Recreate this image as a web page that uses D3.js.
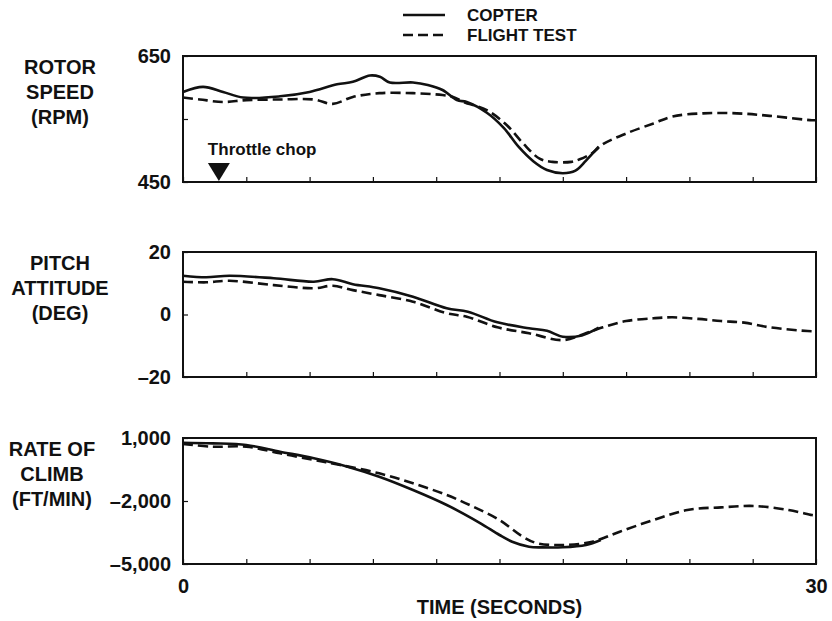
<!DOCTYPE html>
<html>
<head>
<meta charset="utf-8">
<script src="https://cdn.jsdelivr.net/npm/d3@7"></script>
<style>
  html, body { margin: 0; padding: 0; background: #fff; }
  svg { display: block; font-family: "Liberation Sans", Arial, Helvetica, sans-serif; font-weight: bold; }
</style>
</head>
<body>
<svg id="chart" width="832" height="621"></svg>
<script>
// Time axis (seconds)
const timeDomain = [0, 30];
const timeTicks = [0, 3, 6, 9, 12, 15, 18, 21, 24, 27, 30];
const timeLabels = [0, 30];
const throttleChopTime = 1.7;

// Rotor speed (RPM)
const rpmTicks = [450, 550, 650];
const rpmLabels = ["450", "", "650"];
const copterRpmTime = [0, 0.95, 1.9, 2.85, 4.6, 6.0, 7.3, 8.05, 8.86, 9.33, 9.8, 10.9, 11.6, 12.3, 12.98, 13.45, 14.4, 15.2, 15.9, 16.6, 17.25, 18.0, 18.6, 19.1, 19.7];
const copterRpm = [593, 601, 593, 584, 586, 593, 605, 609, 619, 617, 608, 608, 604, 596, 580, 577, 560, 536, 506, 483, 469, 464, 468, 484, 506];
const flightRpmTime = [0, 0.8, 1.9, 3.0, 4.6, 6.2, 7.1, 8.05, 9.3, 10.9, 12.3, 12.8, 13.3, 14.4, 15.35, 16.1, 16.9, 17.5, 18.4, 18.8, 19.4, 19.9, 21.0, 22.3, 23.2, 24.65, 26.25, 27.8, 29.8, 30];
const flightRpm = [584, 581, 577, 580, 581, 581, 574, 585, 591, 591, 588, 585, 577, 564, 540, 512, 487, 482, 482, 486, 496, 510, 527, 543, 554, 559, 559, 555, 548, 548];

// Pitch attitude (deg)
const pitchTicks = [-20, 0, 20];
const pitchLabels = ["\u201320", "0", "20"];
const copterPitchTime = [0, 1.1, 2.2, 4.3, 6.2, 7.1, 8.05, 9.3, 10.9, 12.5, 13.5, 14.9, 16.4, 17.25, 18.0, 18.9, 19.7];
const copterPitch = [12.4, 11.9, 12.4, 11.6, 10.5, 11.3, 9.7, 8.4, 5.7, 2.0, 0.9, -2.5, -4.4, -5.2, -7.1, -6.7, -4.2];
const flightPitchTime = [0, 1.1, 2.2, 4.3, 6.2, 7.1, 8.05, 9.3, 10.9, 12.5, 13.45, 14.9, 16.4, 18.0, 19.0, 19.9, 21.0, 22.3, 23.2, 24.4, 25.5, 26.6, 27.8, 29.6, 30];
const flightPitch = [10.5, 10.3, 10.8, 9.4, 8.4, 9.2, 7.8, 6.2, 4.1, 0.4, -0.7, -4.1, -6.0, -8.2, -6.2, -4.1, -2.1, -1.2, -0.9, -1.4, -2.1, -2.6, -4.1, -5.3, -5.4];

// Rate of climb (ft/min)
const climbTicks = [-5000, -2000, 1000];
const climbLabels = ["\u20135,000", "\u20132,000", "1,000"];
const copterClimbTime = [0, 1.4, 3.0, 4.6, 6.2, 7.8, 9.3, 10.9, 12.5, 14.1, 15.0, 15.6, 16.4, 17.0, 18.0, 19.1, 19.8];
const copterClimb = [776, 746, 667, 349, 33, -365, -843, -1476, -2190, -3063, -3619, -3937, -4175, -4210, -4206, -4095, -3857];
const flightClimbTime = [0, 1.4, 3.0, 4.6, 6.2, 7.45, 9.3, 10.9, 12.5, 13.75, 15.0, 16.1, 16.8, 18.0, 19.4, 20.7, 22.3, 23.9, 25.5, 27.1, 28.7, 29.8, 30];
const flightClimb = [714, 586, 586, 271, -48, -286, -683, -1159, -1714, -2270, -2905, -3698, -4016, -4095, -3937, -3460, -2905, -2429, -2302, -2238, -2429, -2667, -2700];

const seriesNames = ["COPTER", "FLIGHT TEST"];

const svg = d3.select("#chart");
const left = 183, right = 816;
const x = d3.scaleLinear().domain(timeDomain).range([left, right]);

const panels = [
  { title: ["ROTOR", "SPEED", "(RPM)"], titleX: 60, top: 56, bottom: 182,
    ticks: rpmTicks, labels: rpmLabels, midTick: true,
    copter: [copterRpmTime, copterRpm], flight: [flightRpmTime, flightRpm] },
  { title: ["PITCH", "ATTITUDE", "(DEG)"], titleX: 60, top: 252, bottom: 377,
    ticks: pitchTicks, labels: pitchLabels, midTick: true,
    copter: [copterPitchTime, copterPitch], flight: [flightPitchTime, flightPitch] },
  { title: ["RATE OF", "CLIMB", "(FT/MIN)"], titleX: 52, top: 438, bottom: 564,
    ticks: climbTicks, labels: climbLabels, midTick: true,
    copter: [copterClimbTime, copterClimb], flight: [flightClimbTime, flightClimb] }
];

panels.forEach((p, i) => {
  const y = d3.scaleLinear().domain([p.ticks[0], p.ticks[2]]).range([p.bottom, p.top]);
  const g = svg.append("g");

  // left axis: labels, small inward tick at the middle value
  const yAxis = d3.axisLeft(y).tickValues(p.ticks)
    .tickFormat((d, k) => p.labels[k]).tickSizeInner(-5).tickSizeOuter(0).tickPadding(12);
  const ya = g.append("g").attr("transform", `translate(${left},0)`).call(yAxis);
  ya.select(".domain").remove();
  ya.selectAll(".tick line").attr("stroke", "#111").attr("stroke-width", 1.2);
  ya.selectAll("text").attr("font-size", 20).attr("fill", "#111")
    .attr("font-family", "Liberation Sans, Arial, sans-serif").attr("font-weight", "bold");

  // bottom axis: inward ticks every 3 s, labels only under the last panel
  const xAxis = d3.axisBottom(x).tickValues(timeTicks)
    .tickFormat(d => (i === 2 && timeLabels.includes(d)) ? String(d) : "")
    .tickSizeInner(-5).tickSizeOuter(0).tickPadding(15);
  const xa = g.append("g").attr("transform", `translate(0,${p.bottom})`).call(xAxis);
  xa.select(".domain").remove();
  xa.selectAll(".tick line").attr("stroke", "#111").attr("stroke-width", 1.2);
  xa.selectAll("text").attr("font-size", 20).attr("fill", "#111")
    .attr("font-family", "Liberation Sans, Arial, sans-serif").attr("font-weight", "bold");

  // data lines
  const line = d3.line().x(d => x(d[0])).y(d => y(d[1])).curve(d3.curveCatmullRom.alpha(0.5));
  const pairs = (s) => s[0].map((t, k) => [t, s[1][k]]);
  g.append("path").datum(pairs(p.flight)).attr("d", line)
    .attr("fill", "none").attr("stroke", "#111").attr("stroke-width", 2.6)
    .attr("stroke-dasharray", "10,5");
  g.append("path").datum(pairs(p.copter)).attr("d", line)
    .attr("fill", "none").attr("stroke", "#111").attr("stroke-width", 2.6);

  // frame
  g.append("rect").attr("x", left).attr("y", p.top)
    .attr("width", right - left).attr("height", p.bottom - p.top)
    .attr("fill", "none").attr("stroke", "#111").attr("stroke-width", 2);

  // panel title
  const tt = g.append("text").attr("text-anchor", "middle").attr("font-size", 20).attr("fill", "#111");
  const midY = (p.top + p.bottom) / 2;
  p.title.forEach((s, k) => {
    tt.append("tspan").attr("x", p.titleX).attr("y", p.top + 18 + k * 25).text(s);
  });

  if (i === 0) {
    // throttle chop marker
    const cx = x(throttleChopTime);
    g.append("path")
      .attr("d", `M${cx - 11},${p.bottom - 19}L${cx + 11},${p.bottom - 19}L${cx},${p.bottom - 1}Z`)
      .attr("fill", "#111");
    g.append("text").attr("x", cx - 11).attr("y", p.bottom - 27)
      .attr("font-size", 17).attr("fill", "#111").text("Throttle chop");
  }
});

// x-axis title
svg.append("text").attr("x", (left + right) / 2).attr("y", 614)
  .attr("text-anchor", "middle").attr("font-size", 20).attr("fill", "#111")
  .text("TIME (SECONDS)");

// legend
const legend = svg.append("g");
seriesNames.forEach((name, k) => {
  const ly = 15 + k * 20;
  legend.append("line").attr("x1", 403).attr("x2", 445).attr("y1", ly).attr("y2", ly)
    .attr("stroke", "#111").attr("stroke-width", 2.6)
    .attr("stroke-dasharray", k === 1 ? "10,5" : null);
  legend.append("text").attr("x", 467).attr("y", ly + 6)
    .attr("font-size", 17).attr("fill", "#111").text(name);
});
</script>
</body>
</html>
